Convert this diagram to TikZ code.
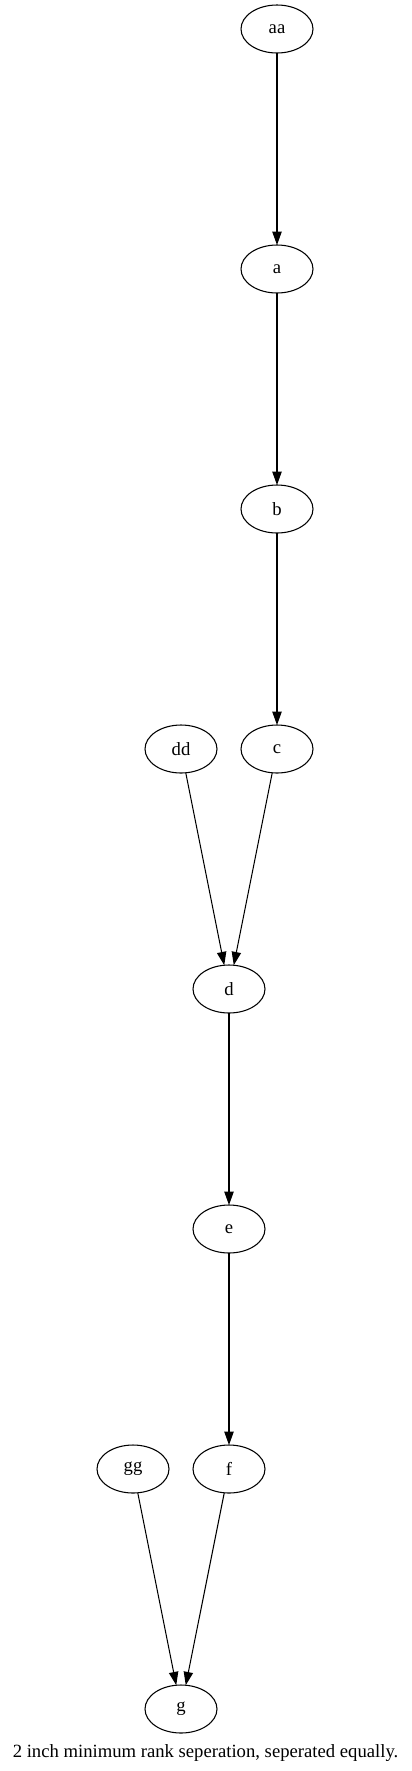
\documentclass[tikz,border=0pt]{standalone}
\usepackage{fontspec}
\setmainfont{Liberation Serif}
\usetikzlibrary{positioning,shapes.geometric,arrows.meta,calc}

\begin{document}
\begin{tikzpicture}[
		x=0.75pt,y=-0.75pt,
		node distance=144pt and 18pt,
		rank/.style={draw,ellipse,line width=0.8pt,minimum width=54pt,minimum height=36pt,inner sep=0pt,outer sep=0pt,font=\fontsize{14pt}{16pt}\selectfont},
		every edge/.style={draw,line width=0.8pt,-{Triangle[length=10pt,width=7pt]}}
		]
		\useasboundingbox (0,0) rectangle (411,1771);
		\node[rank] (aa) at (277,29) {aa};
		\node[rank,below=of aa] (a) {a};
		\node[rank,below=of a] (b) {b};
		\node[rank,below=of b] (c) {c};
		\node[rank,left=of c] (dd) {dd};
		\coordinate (dc) at ($(dd.south)!0.5!(c.south)$);
		\node[rank,below=of dc] (d) {d};
		\node[rank,below=of d] (e) {e};
		\node[rank,below=of e] (f) {f};
		\node[rank,left=of f] (gg) {gg};
		\coordinate (gf) at ($(gg.south)!0.5!(f.south)$);
		\node[rank,below=of gf] (g) {g};
		\path
		(aa) edge (a)
		(a) edge (b)
		(b) edge (c)
		(dd) edge (d)
		(c) edge (d)
		(d) edge (e)
		(e) edge (f)
		(gg) edge (g)
		(f) edge (g);
		\node[anchor=base,font=\fontsize{14pt}{16pt}\selectfont] (caption) at (205.5,1757) {2 inch minimum rank seperation, seperated equally.};
	\end{tikzpicture}
\end{document}
